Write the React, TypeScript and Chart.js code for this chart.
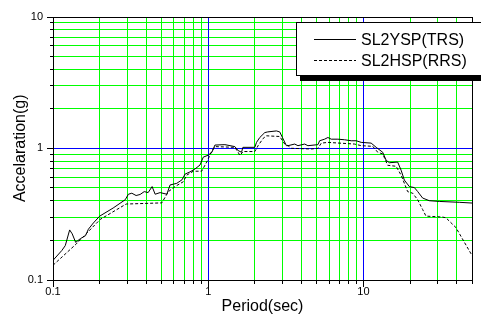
import React, { useEffect, useRef } from "react";
import { Chart, registerables } from "chart.js";

Chart.register(...registerables);

// ---- Data ----
const trsPeriod = [0.1, 0.114, 0.12, 0.128, 0.133, 0.14, 0.15, 0.162, 0.169, 0.182, 0.2, 0.244, 0.292, 0.306, 0.322, 0.343, 0.364, 0.387, 0.41, 0.435, 0.455, 0.49, 0.541, 0.568, 0.627, 0.678, 0.709, 0.763, 0.822, 0.885, 0.929, 1.0, 1.056, 1.104, 1.28, 1.484, 1.558, 1.639, 1.671, 1.995, 2.046, 2.148, 2.313, 2.417, 2.748, 2.887, 3.005, 3.188, 3.265, 3.605, 3.784, 4.18, 4.387, 5.088, 5.217, 5.617, 5.9, 6.2, 6.84, 7.55, 8.34, 8.98, 9.67, 11.2, 12.07, 13.3, 14.0, 14.69, 16.6, 17.47, 18.33, 19.75, 21.27, 22.33, 24.04, 26.55, 30.77, 41.4, 50];
const trsAccel = [0.141, 0.1675, 0.1825, 0.24, 0.224, 0.193, 0.206, 0.217, 0.243, 0.271, 0.3055, 0.352, 0.407, 0.448, 0.456, 0.438, 0.446, 0.469, 0.461, 0.512, 0.448, 0.461, 0.448, 0.527, 0.542, 0.577, 0.637, 0.662, 0.697, 0.7465, 0.857, 0.887, 0.933, 1.058, 1.066, 1.03, 0.961, 0.933, 1.017, 1.017, 1.109, 1.208, 1.316, 1.332, 1.355, 1.332, 1.208, 1.047, 1.047, 1.077, 1.047, 1.077, 1.047, 1.066, 1.141, 1.173, 1.208, 1.173, 1.173, 1.161, 1.141, 1.141, 1.109, 1.095, 1.017, 0.933, 0.81, 0.777, 0.786, 0.682, 0.574, 0.512, 0.503, 0.47, 0.419, 0.4, 0.395, 0.389, 0.384];

const rrsPeriod = [0.1, 0.1413, 0.2015, 0.296, 0.502, 0.554, 0.611, 0.691, 0.727, 0.801, 0.907, 0.977, 1.0, 1.051, 1.104, 1.484, 1.558, 1.598, 1.678, 1.995, 2.095, 2.255, 2.372, 2.887, 3.109, 3.265, 3.433, 4.614, 5.088, 5.35, 5.9, 8.75, 9.67, 11.47, 12.36, 13.3, 14.32, 16.22, 17.47, 19.25, 20.73, 22.33, 24.04, 25.27, 32.3, 33.97, 39.4, 43.4, 50];
const rrsAccel = [0.1294, 0.188, 0.2887, 0.3774, 0.385, 0.469, 0.512, 0.5575, 0.6255, 0.67, 0.67, 0.786, 0.832, 0.945, 1.03, 1.017, 0.933, 0.882, 0.945, 0.945, 1.047, 1.187, 1.244, 1.229, 1.077, 1.047, 1.0, 0.988, 1.0, 1.095, 1.109, 1.077, 1.047, 1.035, 0.933, 0.907, 0.743, 0.73, 0.6255, 0.469, 0.456, 0.407, 0.343, 0.3055, 0.3006, 0.2968, 0.25, 0.205, 0.1537];

const seriesNames = ["SL2YSP(TRS)", "SL2HSP(RRS)"];
const xTickLabels = [0.1, 1, 10];
const yTickLabels = [0.1, 1, 10];
const xRange = [0.1, 50];
const yRange = [0.1, 10];
const xTitle = "Period(sec)";
const yTitle = "Accelaration(g)";

const FONT = '"Liberation Sans", Arial, sans-serif';

// grid values 1..9 x 10^n inside a range
const logGridValues = (min: number, max: number) => {
  const out: number[] = [];
  for (let e = Math.floor(Math.log10(min)); e <= Math.ceil(Math.log10(max)); e++) {
    for (let m = 1; m <= 9; m++) {
      const v = Math.round(m * Math.pow(10, e) * 1e6) / 1e6;
      if (v >= min - 1e-9 && v <= max + 1e-9) out.push(v);
    }
  }
  return out;
};
const xGrid = logGridValues(xRange[0], xRange[1]);
const yGrid = logGridValues(yRange[0], yRange[1]);

const isDecade = (v: number) => {
  const l = Math.log10(v);
  return Math.abs(l - Math.round(l)) < 1e-6;
};

const toPoints = (xs: number[], ys: number[]) => xs.map((x, i) => ({ x, y: ys[i] }));

const gridPlugin = {
  id: "customGrid",
  beforeDatasetsDraw(chart: any) {
    const ctx = chart.ctx;
    const { left, right, top, bottom } = chart.chartArea;
    const L = Math.round(left), R = Math.round(right), T = Math.round(top), B = Math.round(bottom);
    const xs = chart.scales.x;
    const ys = chart.scales.y;
    ctx.save();
    ctx.fillStyle = "#ffffff";
    ctx.fillRect(L, T, R - L, B - T);
    for (const pass of [0, 1]) {
      ctx.fillStyle = pass === 0 ? "rgb(0,255,0)" : "rgb(0,0,255)";
      for (const v of xGrid) {
        if ((pass === 1) !== isDecade(v)) continue;
        const px = Math.floor(xs.getPixelForValue(v));
        if (px <= L || px >= R) continue;
        ctx.fillRect(px, T, 1, B - T);
      }
      for (const v of yGrid) {
        if ((pass === 1) !== isDecade(v)) continue;
        const py = Math.floor(ys.getPixelForValue(v));
        if (py <= T || py >= B) continue;
        ctx.fillRect(L, py, R - L, 1);
      }
    }
    ctx.restore();
  },
  afterDraw(chart: any) {
    const ctx = chart.ctx;
    const { left, right, top, bottom } = chart.chartArea;
    const L = Math.round(left), R = Math.round(right), T = Math.round(top), B = Math.round(bottom);
    const xs = chart.scales.x;
    const ys = chart.scales.y;
    ctx.save();
    // frame
    ctx.fillStyle = "#000";
    ctx.fillRect(L, T, R - L + 1, 1);
    ctx.fillRect(L, B, R - L + 1, 1);
    ctx.fillRect(L, T, 1, B - T + 1);
    ctx.fillRect(R, T, 1, B - T + 1);
    // tick marks
    for (const v of yGrid) {
      const py = Math.floor(ys.getPixelForValue(v));
      const len = isDecade(v) ? 6 : 3;
      ctx.fillRect(L - len, Math.min(Math.max(py, T), B), len, 1);
    }
    for (const v of xGrid) {
      const px = Math.floor(xs.getPixelForValue(v));
      const len = isDecade(v) ? 6 : 3;
      ctx.fillRect(Math.min(Math.max(px, L), R), B + 1, 1, len);
    }

    // axis titles
    ctx.fillStyle = "#000";
    ctx.font = "16px " + FONT;
    ctx.textAlign = "center";
    ctx.textBaseline = "middle";
    ctx.fillText(xTitle, (left + right) / 2, 307);
    ctx.save();
    ctx.translate(25, (top + bottom) / 2);
    ctx.rotate(-Math.PI / 2);
    ctx.textBaseline = "alphabetic";
    ctx.fillText(yTitle, 0, 0);
    ctx.restore();

    // legend box with shadow
    const bx = 296, by = 22, bw = 200, bh = 54;
    ctx.fillStyle = "#000";
    ctx.fillRect(bx + 4, by + bh, bw, 5);
    ctx.fillStyle = "#fff";
    ctx.fillRect(bx, by, bw, bh);
    ctx.fillStyle = "#000";
    ctx.fillRect(bx, by, bw, 1);
    ctx.fillRect(bx, by + bh - 1, bw, 1);
    ctx.fillRect(bx, by, 1, bh);

    const ds = chart.data.datasets;
    const rows = [39.5, 60.5];
    rows.forEach((ry, i) => {
      ctx.beginPath();
      ctx.strokeStyle = ds[i].borderColor;
      ctx.lineWidth = 1;
      ctx.setLineDash(ds[i].borderDash || []);
      ctx.moveTo(314, ry);
      ctx.lineTo(356, ry);
      ctx.stroke();
      ctx.setLineDash([]);
      ctx.fillStyle = "#000";
      ctx.font = "16px " + FONT;
      ctx.textAlign = "left";
      ctx.textBaseline = "middle";
      ctx.fillText(seriesNames[i], 361, ry + 1);
    });
    ctx.restore();
  },
};

export default function App() {
  const ref = useRef<HTMLCanvasElement>(null);
  useEffect(() => {
    if (!ref.current) return;
    const chart = new Chart(ref.current, {
      type: "line",
      data: {
        datasets: [
          {
            label: seriesNames[0],
            data: toPoints(trsPeriod, trsAccel),
            borderColor: "#000000",
            borderWidth: 1,
            pointRadius: 0,
            tension: 0,
            fill: false,
          },
          {
            label: seriesNames[1],
            data: toPoints(rrsPeriod, rrsAccel),
            borderColor: "#000000",
            borderWidth: 1,
            borderDash: [3, 2],
            pointRadius: 0,
            tension: 0,
            fill: false,
          },
        ],
      },
      options: {
        responsive: false,
        animation: false,
        layout: { padding: { left: 0, top: 12, right: 9, bottom: 0 } },
        plugins: { legend: { display: false }, tooltip: { enabled: false }, title: { display: false } },
        scales: {
          x: {
            type: "logarithmic",
            position: "bottom",
            min: xRange[0],
            max: xRange[1],
            afterFit: (s: any) => {
              s.height = 45;
            },
            afterBuildTicks: (s: any) => {
              s.ticks = xTickLabels.map((v) => ({ value: v }));
            },
            grid: { display: false, drawTicks: false },
            border: { display: false },
            ticks: {
              autoSkip: false,
              maxRotation: 0,
              padding: 5,
              color: "#000",
              font: { family: FONT, size: 11 },
              callback: (v: any) => String(v),
            },
          },
          y: {
            type: "logarithmic",
            position: "left",
            min: yRange[0],
            max: yRange[1],
            afterFit: (s: any) => {
              s.width = 53;
            },
            afterBuildTicks: (s: any) => {
              s.ticks = yTickLabels.map((v) => ({ value: v }));
            },
            grid: { display: false, drawTicks: false },
            border: { display: false },
            ticks: {
              autoSkip: false,
              padding: 10,
              color: "#000",
              font: { family: FONT, size: 11 },
              callback: (v: any) => String(v),
            },
          },
        },
      } as any,
      plugins: [gridPlugin],
    });
    return () => chart.destroy();
  }, []);
  return (
    <div style={{ position: "absolute", left: 0, top: 0, width: 481, height: 325, background: "#fff" }}>
      <canvas ref={ref} width={481} height={325} style={{ display: "block" }} />
    </div>
  );
}
